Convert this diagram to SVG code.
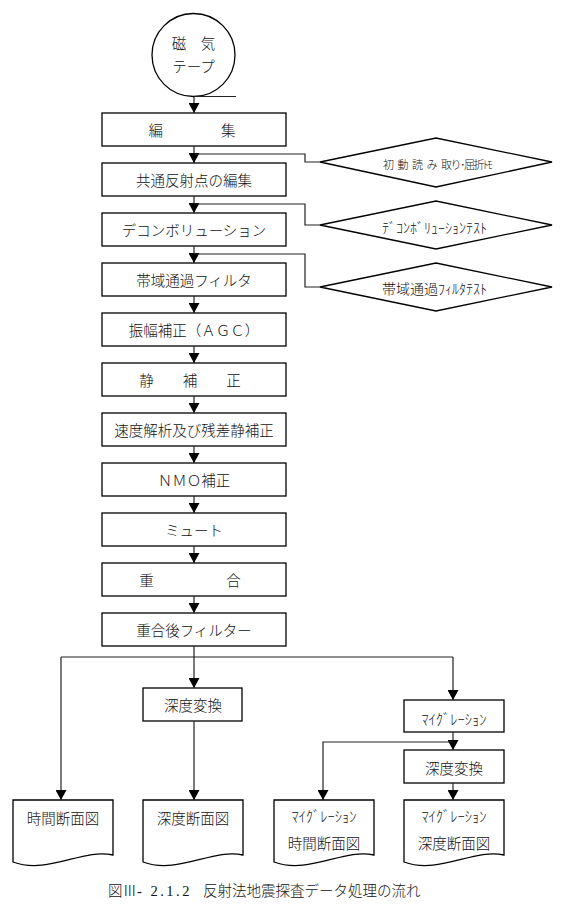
<svg xmlns="http://www.w3.org/2000/svg" width="563" height="922" viewBox="0 0 563 922">
<defs>
<marker id="ah" viewBox="0 0 10 11" refX="10" refY="5.5" markerWidth="10" markerHeight="11" markerUnits="userSpaceOnUse" orient="auto">
<path d="M0,0 L10,5.5 L0,11 z" fill="#000"/>
</marker>
<style>
text{font-family:"Liberation Serif","Noto Sans CJK JP",serif;font-weight:300;fill:#111;font-size:14.5px}
.c{text-anchor:middle}
.box{fill:#fff;stroke:#000;stroke-width:1.3}
.ln{fill:none;stroke:#222;stroke-width:1.2}
.ar{fill:none;stroke:#222;stroke-width:1.2;marker-end:url(#ah)}
</style>
</defs>
<rect width="563" height="922" fill="#fff"/>

<g id="tape">
<circle cx="193.5" cy="55" r="41.5" class="box"/>
<path d="M194,96.5 H236" class="ln"/>
<text x="193.5" y="49" class="c">磁　気</text>
<text x="193.5" y="72" class="c">テープ</text>
</g>

<g id="edit"><rect x="102" y="113" width="184" height="33" class="box"/><text x="192" y="136" class="c">編　　　　集</text></g>
<g id="cmp"><rect x="102" y="163" width="184" height="33" class="box"/><text x="194" y="186" class="c">共通反射点の編集</text></g>
<g id="decon"><rect x="102" y="213" width="184" height="33" class="box"/><text x="194" y="236" class="c">デコンボリューション</text></g>
<g id="bpf"><rect x="102" y="263" width="184" height="33" class="box"/><text x="194" y="286" class="c">帯域通過フィルタ</text></g>
<g id="agc"><rect x="102" y="313" width="184" height="33" class="box"/><text x="194" y="336" class="c">振幅補正（ＡＧＣ）</text></g>
<g id="static"><rect x="102" y="363" width="184" height="33" class="box"/><text x="190" y="386" class="c">静　　補　　正</text></g>
<g id="vel"><rect x="102" y="413" width="184" height="33" class="box"/><text x="194" y="436" class="c">速度解析及び残差静補正</text></g>
<g id="nmo"><rect x="102" y="463" width="184" height="33" class="box"/><text x="194" y="486" class="c">ＮＭＯ補正</text></g>
<g id="mute"><rect x="102" y="513" width="184" height="33" class="box"/><text x="194" y="536" class="c">ミュート</text></g>
<g id="stack"><rect x="102" y="563" width="184" height="33" class="box"/><text x="190" y="586" class="c">重　　　　　合</text></g>
<g id="post"><rect x="102" y="613" width="184" height="33" class="box"/><text x="194" y="636" class="c">重合後フィルター</text></g>

<g id="d1"><path d="M320,162 L436,138 L552,162 L436,187 z" class="box"/>
<text x="383" y="169" style="font-size:11px"><tspan style="letter-spacing:3.5px">初動読み</tspan><tspan style="letter-spacing:-1.5px">取り･屈折ﾄﾓ</tspan></text></g>
<g id="d2"><path d="M320,225 L436,201 L552,225 L436,249 z" class="box"/>
<text x="434.5" y="233" class="c" style="font-size:14px">ﾃﾞｺﾝﾎﾞﾘｭｰｼｮﾝﾃｽﾄ</text></g>
<g id="d3"><path d="M320,287 L436,263 L552,287 L436,311 z" class="box"/>
<text x="434.5" y="293.5" class="c" style="font-size:14px">帯域通過ﾌｨﾙﾀﾃｽﾄ</text></g>

<g id="depth1"><rect x="143" y="688" width="99" height="33" class="box"/><text x="193" y="710.5" class="c">深度変換</text></g>
<g id="mig"><rect x="404" y="700" width="100" height="32" class="box"/><text x="454" y="724.5" class="c">ﾏｲｸﾞﾚｰｼｮﾝ</text></g>
<g id="depth2"><rect x="404" y="750" width="100" height="33" class="box"/><text x="454" y="773.5" class="c">深度変換</text></g>

<g id="doc1"><path d="M13,800 H113 V855 C83,848 48,875 13,862 z" class="box"/><text x="63" y="823.5" class="c">時間断面図</text></g>
<g id="doc2"><path d="M143,800 H243 V855 C213,848 178,875 143,862 z" class="box"/><text x="193" y="823.5" class="c">深度断面図</text></g>
<g id="doc3"><path d="M274,800 H374 V855 C344,848 309,875 274,862 z" class="box"/><text x="324" y="821.5" class="c">ﾏｲｸﾞﾚｰｼｮﾝ</text><text x="324" y="849" class="c">時間断面図</text></g>
<g id="doc4"><path d="M404,800 H504 V855 C474,848 439,875 404,862 z" class="box"/><text x="454" y="821.5" class="c">ﾏｲｸﾞﾚｰｼｮﾝ</text><text x="454" y="849" class="c">深度断面図</text></g>

<g id="connectors">
<path d="M194,97 V113" class="ar"/>
<path d="M194,146 V163" class="ar"/>
<path d="M194,196 V213" class="ar"/>
<path d="M194,246 V263" class="ar"/>
<path d="M194,296 V313" class="ar"/>
<path d="M194,346 V363" class="ar"/>
<path d="M194,396 V413" class="ar"/>
<path d="M194,446 V463" class="ar"/>
<path d="M194,496 V513" class="ar"/>
<path d="M194,546 V563" class="ar"/>
<path d="M194,596 V613" class="ar"/>
<path d="M194,154 H305 V162 H320" class="ln"/>
<path d="M194,204 H305 V225 H320" class="ln"/>
<path d="M194,254 H305 V287 H320" class="ln"/>
<path d="M194,646 V688" class="ar"/>
<path d="M61,657 H453" class="ln"/>
<path d="M61,657 V800" class="ar"/>
<path d="M453,657 V700" class="ar"/>
<path d="M194,721 V800" class="ar"/>
<path d="M453,732 V750" class="ar"/>
<path d="M453,742 H323 V800" class="ar"/>
<path d="M453,783 V800" class="ar"/>
</g>

<text x="108" y="896">図Ⅲ<tspan style="letter-spacing:2.5px">- 2.1.2</tspan><tspan x="188.5">　反射法地震探査データ処理の流れ</tspan></text>
</svg>
